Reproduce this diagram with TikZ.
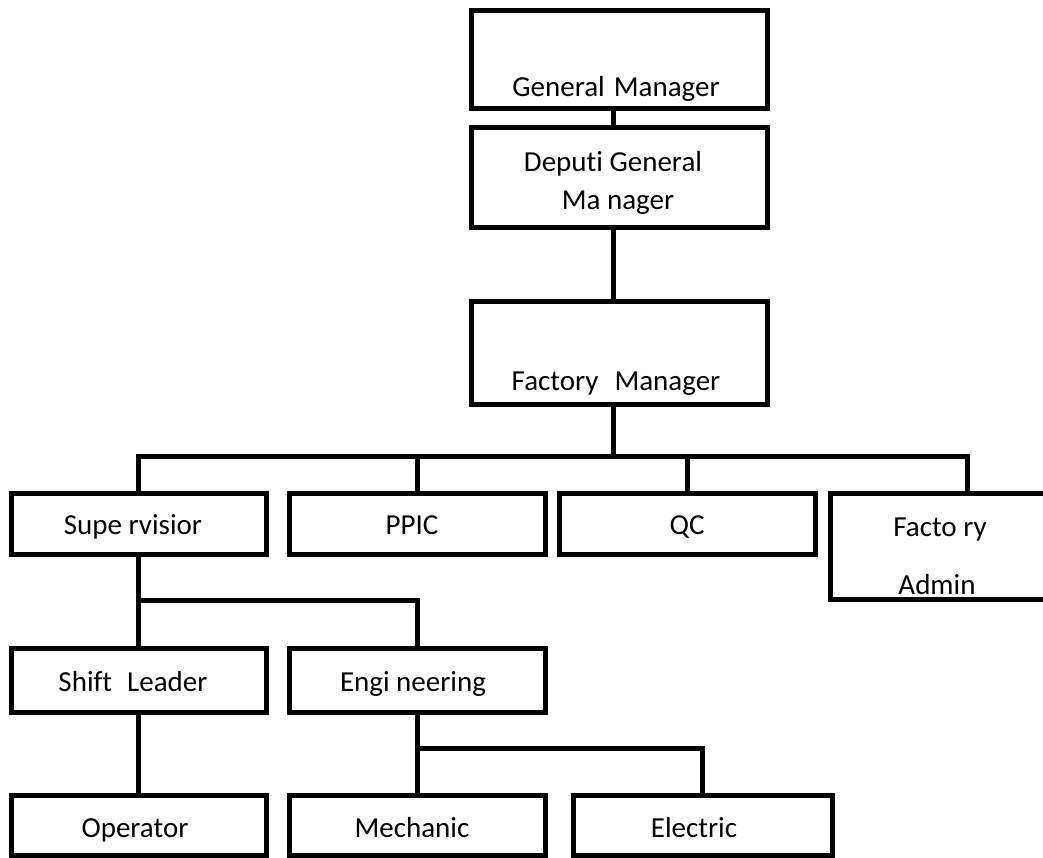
\documentclass[tikz,border=0pt]{standalone}
\usepackage{fontspec}
\setmainfont{Carlito}[Ligatures=NoCommon]
\begin{document}
\begin{tikzpicture}[x=1pt,y=-1pt,
  box/.style={draw, line width=5pt, rectangle, inner sep=0pt, outer sep=0pt},
  txt/.style={font=\fontsize{29}{35}\selectfont, inner sep=0pt, anchor=base},
  conn/.style={line width=5pt}]
\useasboundingbox (0,0) rectangle (1043,858);
\clip (0,0) rectangle (1043,858);
% top column
\node[box, minimum width=296pt, minimum height=98pt]  (gm)  at (619,60)  {};
\node[box, minimum width=296pt, minimum height=100pt] (dgm) at (619,178) {};
\node[box, minimum width=296pt, minimum height=102pt] (fm)  at (619,353) {};
% second row
\node[box, minimum width=255pt, minimum height=61pt]  (sup)  at (138.5,523.5) {};
\node[box, minimum width=256pt, minimum height=61pt]  (ppic) at (417,523.5) {};
\node[box, minimum width=256pt, minimum height=61pt]  (qc)   at (687,523.5) {};
\node[box, minimum width=274pt, minimum height=106pt] (fa)   at (967,546) {};
% third row
\node[box, minimum width=255pt, minimum height=64pt]  (shl) at (138.5,680) {};
\node[box, minimum width=256pt, minimum height=64pt]  (eng) at (417,680) {};
% fourth row
\node[box, minimum width=255pt, minimum height=60pt]  (op)   at (138.5,825) {};
\node[box, minimum width=256pt, minimum height=60pt]  (mech) at (417,825) {};
\node[box, minimum width=259pt, minimum height=60pt]  (elec) at (702.5,825) {};
% texts
\node[txt] (tgm)  at (616,97)  {General\hspace{9pt}Manager};
\node[txt] (tdg1) at (613,172) {Deputi General};
\node[txt] (tdg2) at (618,210) {Ma nager};
\node[txt] (tfm)  at (616,390) {Factory\hspace{16pt}Manager};
\node[txt] (tsup) at (133,534) {Supe rvisior};
\node[txt] (tppic) at (412,534) {PPIC};
\node[txt] (tqc)  at (687,534) {QC};
\node[txt] (tfa1) at (940,536) {Facto ry};
\node[txt] (tfa2) at (937,594) {Admin};
\node[txt] (tshl) at (133,691) {Shift\hspace{15pt}Leader};
\node[txt] (teng) at (413,691) {Engi neering};
\node[txt] (top)  at (135,837) {Operator};
\node[txt] (tmech) at (412,837) {Mechanic};
\node[txt] (telec) at (694,837) {Electric};
% bus coordinates
\coordinate (bus)  at (613,456);
\coordinate (sbus) at (0,600);
\coordinate (ebus) at (0,748);
% connectors
\draw[conn] ([xshift=-6pt]gm.south) -- ([xshift=-6pt]dgm.north);
\draw[conn] ([xshift=-6pt]dgm.south) -- ([xshift=-6pt]fm.north);
\draw[conn] ([xshift=-6pt]fm.south) -- (bus);
\draw[conn] (sup.north) |- (bus) -| (fa.north);
\draw[conn] (ppic.north) -- (ppic.north |- bus);
\draw[conn] (qc.north) -- (qc.north |- bus);
\draw[conn] (sup.south) -- (shl.north);
\draw[conn] (sup.south |- sbus) -| (eng.north);
\draw[conn] (shl.south) -- (op.north);
\draw[conn] (eng.south) -- (mech.north);
\draw[conn] (eng.south |- ebus) -| (elec.north);
\end{tikzpicture}
\end{document}
